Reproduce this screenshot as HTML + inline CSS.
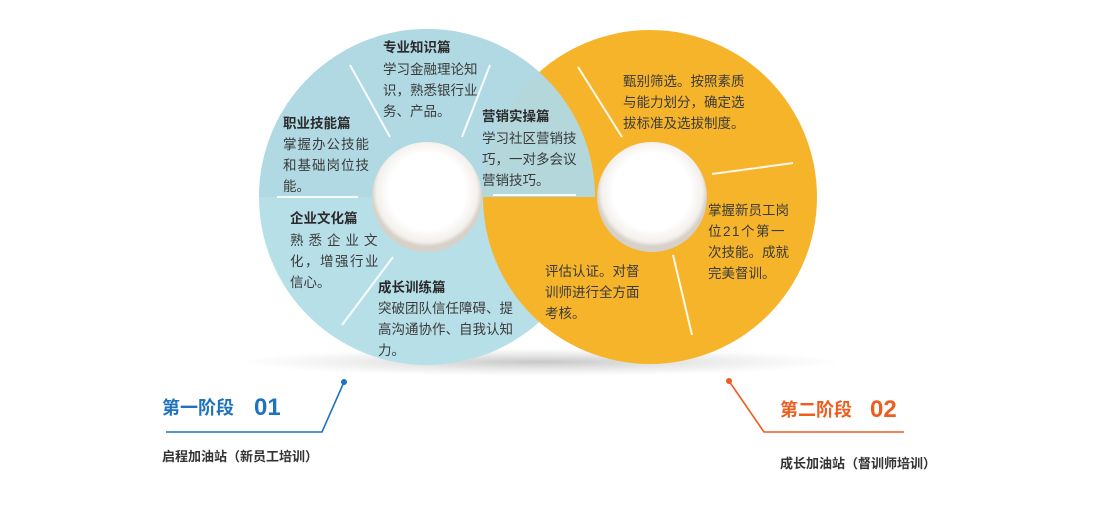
<!DOCTYPE html>
<html><head><meta charset="utf-8"><style>
body{margin:0;background:#fff;width:1110px;height:500px;overflow:hidden}
svg text{font-family:"Liberation Sans","Noto Sans CJK SC",sans-serif}
.t{font-size:13.5px;fill:#3a3a3a}
.b{font-size:13.5px;font-weight:bold;fill:#2a2a2a}
</style></head><body>
<svg width="1110" height="500" viewBox="0 0 1110 500" xmlns="http://www.w3.org/2000/svg">
<defs>
<radialGradient id="sh" cx="50%" cy="50%" r="50%"><stop offset="0" stop-color="#999" stop-opacity=".55"/><stop offset="1" stop-color="#bbb" stop-opacity="0"/></radialGradient>
<radialGradient id="hole" cx="50%" cy="45%" r="50%"><stop offset="0.7" stop-color="#fff"/><stop offset="0.92" stop-color="#f3f0ec"/><stop offset="1" stop-color="#d8d1c9"/></radialGradient>
<clipPath id="top"><rect x="0" y="0" width="1110" height="197"/></clipPath>
</defs>
<ellipse cx="540" cy="362" rx="300" ry="14" fill="url(#sh)"/>
<circle cx="427" cy="197" r="168" fill="#b7dfe8"/>
<circle cx="650" cy="197" r="167" fill="#f6b42b"/>
<circle cx="427" cy="197" r="168" fill="#b0d9e3" clip-path="url(#top)" opacity=".96"/>
<g stroke="#fff" stroke-width="2" opacity=".9">
<line x1="350" y1="65" x2="390" y2="137"/>
<line x1="490" y1="65" x2="462" y2="137"/>
<line x1="277" y1="197" x2="358" y2="197"/>
<line x1="393" y1="257" x2="342" y2="325"/>
<line x1="493" y1="195" x2="576" y2="195"/>
<line x1="578" y1="67" x2="622" y2="137"/>
<line x1="712" y1="174" x2="793" y2="163"/>
<line x1="673" y1="255" x2="692" y2="335"/>
</g>
<circle cx="427" cy="197" r="55" fill="url(#hole)"/>
<circle cx="652" cy="197" r="55" fill="url(#hole)"/>

<text class="b" x="383" y="52">专业知识篇</text>
<text class="t" x="383" y="74">学习金融理论知</text>
<text class="t" x="383" y="95">识，熟悉银行业</text>
<text class="t" x="383" y="116">务、产品。</text>

<text class="b" x="283" y="128">职业技能篇</text>
<text class="t" x="283" y="149" letter-spacing="1">掌握办公技能</text>
<text class="t" x="283" y="170" letter-spacing="1">和基础岗位技</text>
<text class="t" x="283" y="191">能。</text>

<text class="b" x="482" y="121">营销实操篇</text>
<text class="t" x="482" y="143">学习社区营销技</text>
<text class="t" x="482" y="164">巧，一对多会议</text>
<text class="t" x="482" y="185">营销技巧。</text>

<text class="b" x="290" y="223">企业文化篇</text>
<text class="t" x="290" y="245" letter-spacing="5">熟悉企业文</text>
<text class="t" x="290" y="266" letter-spacing="1.5">化，增强行业</text>
<text class="t" x="290" y="287">信心。</text>

<text class="b" x="378" y="292">成长训练篇</text>
<text class="t" x="378" y="313">突破团队信任障碍、提</text>
<text class="t" x="378" y="334">高沟通协作、自我认知</text>
<text class="t" x="378" y="355">力。</text>

<text class="t" x="623" y="86">甄别筛选。按照素质</text>
<text class="t" x="623" y="107">与能力划分，确定选</text>
<text class="t" x="623" y="128">拔标准及选拔制度。</text>

<text class="t" x="708" y="215">掌握新员工岗</text>
<text class="t" x="708" y="236" letter-spacing="1.5">位21个第一</text>
<text class="t" x="708" y="257">次技能。成就</text>
<text class="t" x="708" y="278">完美督训。</text>

<text class="t" x="545" y="276">评估认证。对督</text>
<text class="t" x="545" y="297">训师进行全方面</text>
<text class="t" x="545" y="318">考核。</text>

<polyline points="166,432 322,432 344,382" fill="none" stroke="#1f72bd" stroke-width="1.6"/>
<circle cx="344" cy="382" r="3" fill="#1f72bd"/>
<text x="162" y="414" font-size="18" font-weight="bold" fill="#1f72bd">第一阶段</text>
<text x="254" y="415" font-size="24" font-weight="bold" fill="#1f72bd">01</text>
<text x="162" y="461" font-size="13" font-weight="bold" fill="#333">启程加油站（新员工培训）</text>

<polyline points="729,381 764,432 904,432" fill="none" stroke="#ec5d1f" stroke-width="1.6"/>
<circle cx="729" cy="381" r="3" fill="#ec5d1f"/>
<text x="780" y="416" font-size="18" font-weight="bold" fill="#ec5d1f">第二阶段</text>
<text x="870" y="417" font-size="24" font-weight="bold" fill="#ec5d1f">02</text>
<text x="780" y="468" font-size="13" font-weight="bold" fill="#333">成长加油站（督训师培训）</text>
</svg>
</body></html>
